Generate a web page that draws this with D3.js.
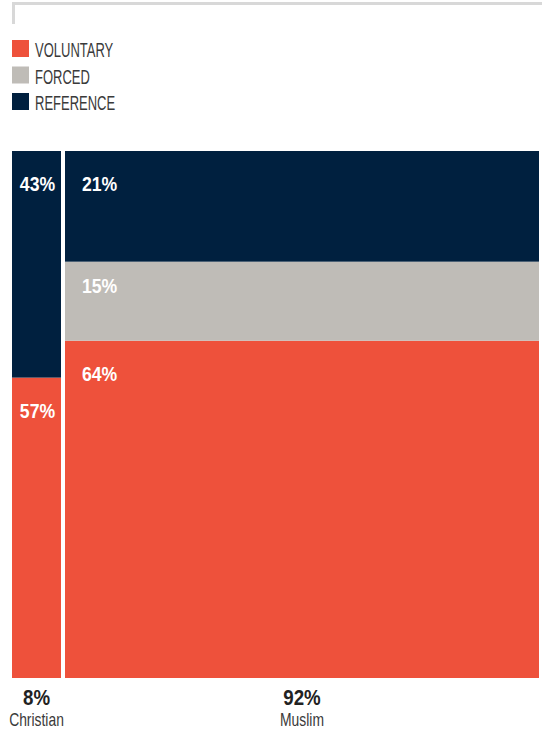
<!DOCTYPE html>
<html><head><meta charset="utf-8">
<script src="https://cdn.jsdelivr.net/npm/d3@7"></script>
<style>
html,body{margin:0;padding:0;background:#fff;}
svg{display:block;}
</style></head>
<body>
<script>
const categories = ["Christian", "Muslim"];
const categoryShares = [8, 92];
const seriesNames = ["VOLUNTARY", "FORCED", "REFERENCE"];
const voluntary = [57, 64];
const forced = [0, 15];
const reference = [43, 21];
const colors = ["#EE513B", "#BFBCB7", "#00203F"];

(function () {
const W = 542, H = 740;
const pLeft = 12, pRight = 539, pTop = 151, pBottom = 678, gap = 4, minW = 49;
const svg = d3.select("body").append("svg").attr("width", W).attr("height", H);
const FONT = "'Liberation Sans',Arial,sans-serif";

function txt(g, xPos, yPos, sx, str, opts) {
  const t = g.append("text")
    .attr("transform", `translate(${xPos},${yPos}) scale(${sx},1)`)
    .attr("font-family", FONT)
    .attr("font-size", opts.size)
    .attr("font-weight", opts.weight || "normal")
    .attr("fill", opts.fill)
    .attr("text-anchor", opts.anchor || "start")
    .text(str);
  return t;
}

// top frame remnant
svg.append("line").attr("x1", pLeft).attr("x2", W).attr("y1", 3.5).attr("y2", 3.5)
  .attr("stroke", "#d8d8d8").attr("stroke-width", 3);
svg.append("line").attr("x1", 13.5).attr("x2", 13.5).attr("y1", 2).attr("y2", 24)
  .attr("stroke", "#d8d8d8").attr("stroke-width", 3);

// legend
const leg = svg.append("g");
seriesNames.forEach((name, i) => {
  const y0 = 40 + i * 26.5;
  leg.append("rect").attr("x", pLeft).attr("y", y0).attr("width", 17).attr("height", 17)
    .attr("fill", colors[i]);
  txt(leg, 35, y0 + 17, 0.65, name, {size: 20, fill: "#3a3a3a"});
});

// x layout via scale
const x = d3.scaleLinear().domain([0, d3.sum(categoryShares)]).range([0, pRight - pLeft - gap * (categories.length - 1)]);
let widths = categoryShares.map(s => x(s) - x(0));
const total = d3.sum(widths);
const small = widths.map(w => w < minW);
const fixed = d3.sum(widths.map((w, i) => small[i] ? minW : 0));
const restRaw = d3.sum(widths.filter((w, i) => !small[i]));
widths = widths.map((w, i) => small[i] ? minW : w * (total - fixed) / restRaw);
const xs = [];
let cx = pLeft;
widths.forEach(w => { xs.push(cx); cx += w + gap; });

const y = d3.scaleLinear().domain([0, 100]).range([pBottom, pTop]);
const series = [voluntary, forced, reference];

categories.forEach((cat, ci) => {
  let cum = 0;
  const x0 = xs[ci], w = widths[ci];
  series.forEach((vals, si) => {
    const v = vals[ci];
    if (!v) return;
    const yTop = y(cum + v), yBot = y(cum);
    cum += v;
    svg.append("rect").attr("x", x0).attr("y", yTop).attr("width", w).attr("height", yBot - yTop)
      .attr("fill", colors[si]);
    const h = yBot - yTop;
    const narrow = w < 80;
    txt(svg, narrow ? x0 + w / 2 + 1 : x0 + 17, yTop + Math.min(40, h * 0.4), 0.84, v + "%",
      {size: 21, weight: "bold", fill: "#fff", anchor: narrow ? "middle" : "start"});
  });
  const mid = x0 + w / 2;
  txt(svg, mid, 705, 0.85, categoryShares[ci] + "%", {size: 22, weight: "bold", fill: "#222", anchor: "middle"});
  txt(svg, mid, 725.5, 0.73, cat, {size: 19, fill: "#3a3a3a", anchor: "middle"});
});
})();
</script>
</body></html>
